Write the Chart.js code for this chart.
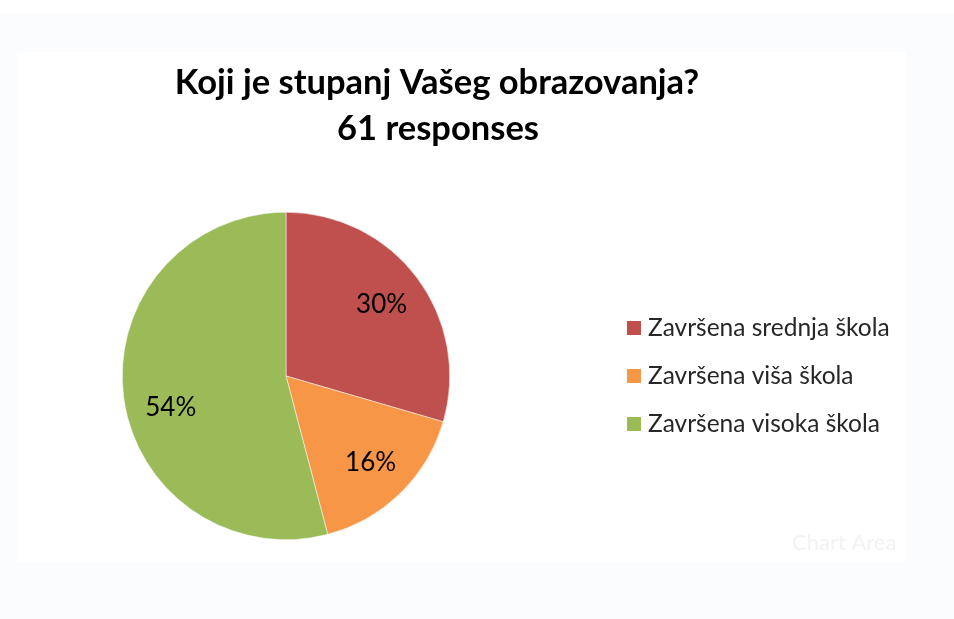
<!DOCTYPE html>
<html>
<head>
<meta charset="utf-8">
<script src="https://cdn.jsdelivr.net/npm/chart.js@4.4.1/dist/chart.umd.min.js"></script>
<style>
  html, body { margin: 0; padding: 0; background: #fbfcfd; }
  #wrap { width: 954px; height: 619px; position: relative; }
</style>
</head>
<body>
<div id="wrap"><canvas id="pie" width="954" height="619"></canvas></div>
<script>
const titleLines = ["Koji je stupanj Vašeg obrazovanja?", "61 responses"];
const categories = ["Završena srednja škola", "Završena viša škola", "Završena visoka škola"];
const responses = [18, 10, 33];
const sliceColors = ["#C0504D", "#F79646", "#9BBB59"];

const FONT = "Lato, 'Open Sans', sans-serif";
// label placement (fraction of radius, angle nudge in radians), like Excel's best fit
const labelRadius = [0.73, 0.74, 0.73];
const labelNudge = [0, 0, -0.14];

// white chart area panel, title, legend, slice labels
const decor = {
  id: "decor",
  beforeDraw(chart) {
    const ctx = chart.ctx;
    ctx.save();
    ctx.fillStyle = "#ffffff";
    ctx.fillRect(0, 0, 954, 13);
    ctx.fillRect(17, 52, 889, 510);
    ctx.restore();
  },
  afterDraw(chart) {
    const ctx = chart.ctx;
    ctx.save();
    // title
    ctx.fillStyle = "#000000";
    ctx.textAlign = "center";
    ctx.textBaseline = "alphabetic";
    ctx.font = "bold 34.5px " + FONT;
    ctx.fillText(titleLines[0], 437, 94);
    ctx.fillText(titleLines[1], 438, 140);

    // legend
    ctx.textAlign = "left";
    ctx.textBaseline = "middle";
    ctx.font = "24.5px " + FONT;
    categories.forEach((c, i) => {
      const y = 328 + i * 48;
      ctx.fillStyle = sliceColors[i];
      ctx.fillRect(627, y - 7, 14, 14);
      ctx.fillStyle = "#262626";
      ctx.fillText(c, 648, y);
    });

    // percentage labels inside slices
    const meta = chart.getDatasetMeta(0);
    const total = responses.reduce((a, b) => a + b, 0);
    ctx.font = "26px " + FONT;
    ctx.textAlign = "center";
    ctx.fillStyle = "#000000";
    meta.data.forEach((arc, i) => {
      const mid = (arc.startAngle + arc.endAngle) / 2 + labelNudge[i];
      const r = arc.outerRadius * labelRadius[i];
      const pct = Math.round(responses[i] / total * 100) + "%";
      ctx.fillText(pct, arc.x + Math.cos(mid) * r, arc.y + Math.sin(mid) * r);
    });

    // faint hover tag left in the screenshot
    ctx.font = "22px " + FONT;
    ctx.textAlign = "left";
    ctx.fillStyle = "#f2f2f2";
    ctx.fillText("Chart Area", 792, 543);
    ctx.restore();
  }
};

new Chart(document.getElementById("pie"), {
  type: "pie",
  data: {
    labels: categories,
    datasets: [{
      data: responses,
      backgroundColor: sliceColors,
      borderColor: "#ffffff",
      borderWidth: 0.5
    }]
  },
  options: {
    responsive: false,
    animation: false,
    layout: { padding: { left: 122, right: 504, top: 212, bottom: 79 } },
    plugins: {
      legend: { display: false },
      title: { display: false },
      tooltip: { enabled: false }
    }
  },
  plugins: [decor]
});
</script>
</body>
</html>
